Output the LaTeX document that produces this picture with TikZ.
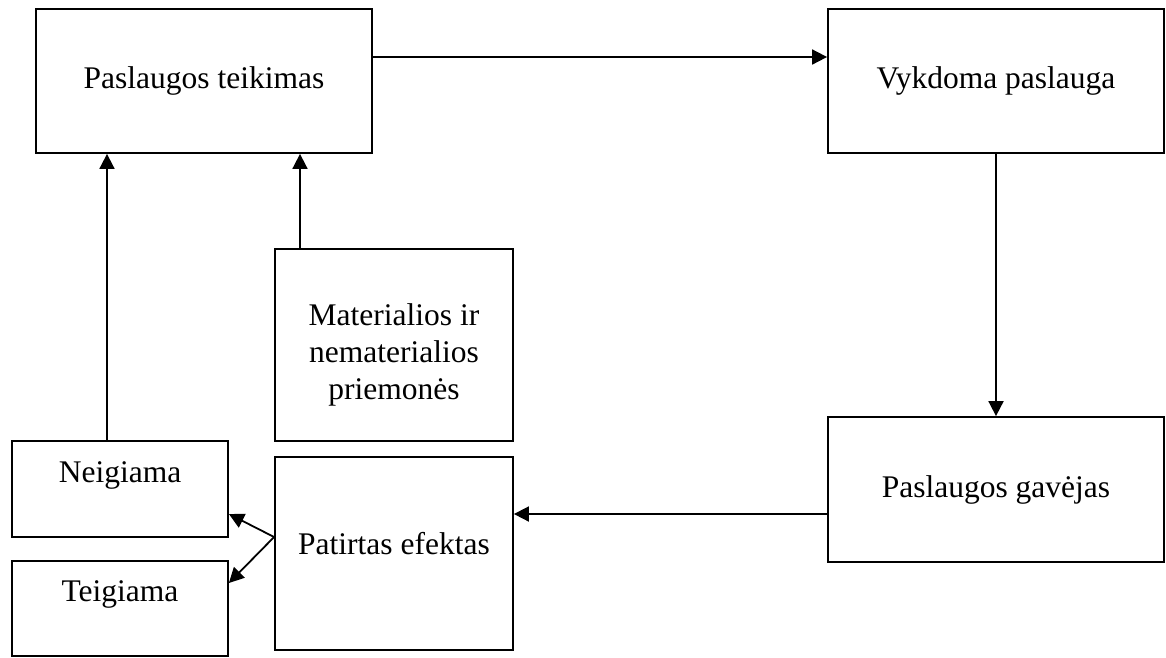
\documentclass[tikz,border=0pt]{standalone}
\usepackage{fontspec}
\setmainfont{Liberation Serif}
\usetikzlibrary{calc,arrows.meta}
\begin{document}
\begin{tikzpicture}[x=1pt,y=-1pt,
  box/.style={draw,line width=1.8pt,rectangle,inner sep=0pt},
  lbl/.style={font=\fontsize{31.5}{37}\selectfont,align=center,inner sep=0pt},
  arr/.style={line width=1.8pt,-{Triangle[length=15pt,width=15pt]}},
  plain/.style={line width=1.8pt}]
\useasboundingbox (0,0) rectangle (1166,657);
% boxes
\node[box,minimum width=336pt,minimum height=144pt] (A) at (204,81) {};
\node[box,minimum width=336pt,minimum height=144pt] (B) at (996,81) {};
\node[box,minimum width=336pt,minimum height=145pt] (D) at (996,489.5) {};
\node[box,minimum width=238pt,minimum height=192pt] (M) at (394,345) {};
\node[box,minimum width=238pt,minimum height=193pt] (E) at (394,553.5) {};
\node[box,minimum width=216pt,minimum height=96pt] (N) at (120,489) {};
\node[box,minimum width=216pt,minimum height=95pt] (T) at (120,608.5) {};
% texts
\node[lbl] (tA) at (A.center) {Paslaugos teikimas};
\node[lbl] (tB) at (B.center) {Vykdoma paslauga};
\node[lbl] (tD) at (D.center) {Paslaugos gavėjas};
\node[lbl] (tM) at ($(M.center)+(0,10)$) {Materialios ir\\nematerialios\\priemonės};
\node[lbl] (tE) at ($(E.center)+(0,-10)$) {Patirtas efektas};
\node[lbl] (tN) at ($(N.center)+(0,-14)$) {Neigiama};
\node[lbl] (tT) at ($(T.center)+(0,-14)$) {Teigiama};
% connector end points
\coordinate (ab) at ($(A.east)+(0,-24)$);
\coordinate (de) at ($(D.west)+(0,24.5)$);
\coordinate (eo) at ($(E.west)+(0,-16.5)$);
\coordinate (en) at ($(N.east)+(0,25)$);
\coordinate (et) at ($(T.east)+(0,-25.5)$);
\coordinate (na) at ($(N.north)+(-13,0)$);
\coordinate (ma) at ($(M.north)+(-94,0)$);
% connectors
\draw[arr] (ab) -- (ab -| B.west);
\draw[arr] (B.south) -- (D.north);
\draw[arr] (de) -- (de -| E.east);
\draw[arr] (eo) -- (en);
\draw[arr] (eo) -- (et);
\draw[arr] (na) -- (na |- A.south);
\draw[arr] (ma) -- (ma |- A.south);
\end{tikzpicture}
\end{document}
